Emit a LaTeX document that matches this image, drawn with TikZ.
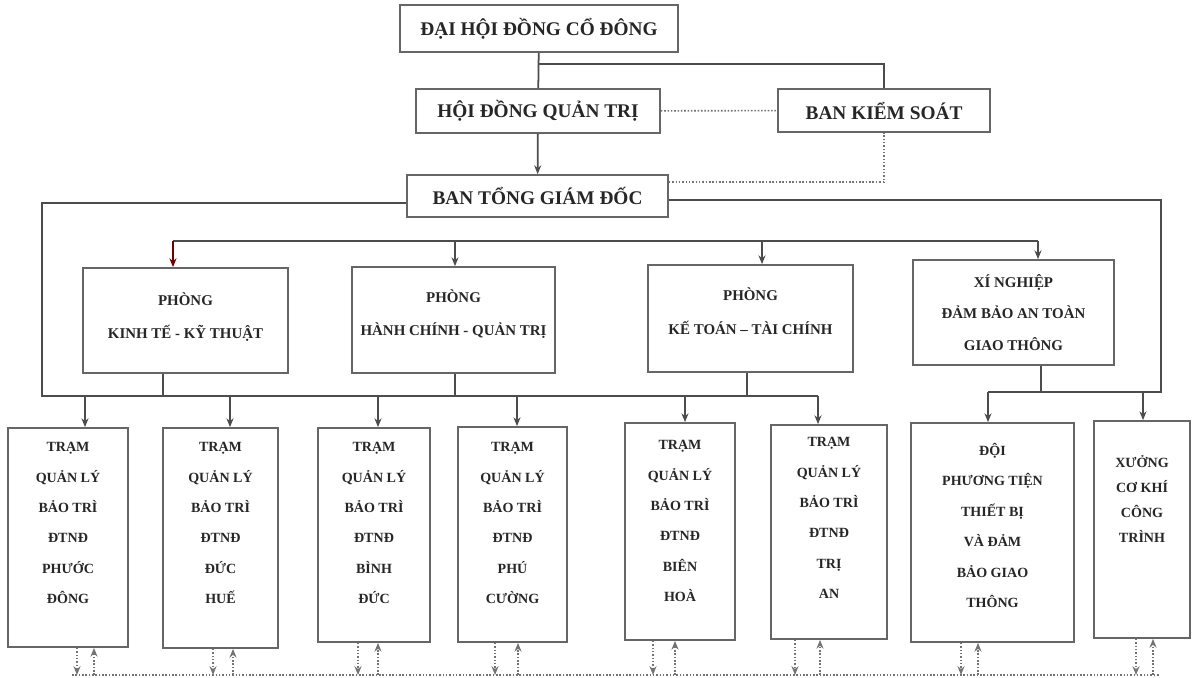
\documentclass[tikz,border=0pt]{standalone}
\usepackage{fontspec}
\setmainfont{Liberation Serif}
\usetikzlibrary{arrows.meta,fit}

\begin{document}
\begin{tikzpicture}[x=0.02cm,y=-0.02cm,
    line/.style={draw=black!70,line width=1pt},
    link/.style={line,-{Stealth[length=5pt,width=4pt]}},
    dots/.style={draw=black!55,line width=0.9pt,densely dotted},
    dotlink/.style={dots,-{Stealth[length=5pt,width=4pt]}},
    box/.style={draw=black!60,line width=1pt,rectangle,inner sep=0pt,text=black!85},
    head/.style={box,font=\bfseries\fontsize{11}{13}\selectfont},
    dept/.style={box,align=center,font=\bfseries\fontsize{8.5}{19}\selectfont},
    stationtext/.style={anchor=north,align=center,inner sep=0pt,text=black!85}]
  \useasboundingbox (0,0) rectangle (1196,678);

  % management
  \node[head,minimum width=5.56cm,minimum height=0.94cm] (dhdcd) at (539,28.5) {ĐẠI HỘI ĐỒNG CỔ ĐÔNG};
  \node[head,minimum width=4.88cm,minimum height=0.88cm] (hdqt) at (538,111) {HỘI ĐỒNG QUẢN TRỊ};
  \node[head,minimum width=4.24cm,minimum height=0.86cm] (bks) at (884,110.5) {BAN KIỂM SOÁT};
  \node[head,minimum width=5.22cm,minimum height=0.84cm] (btgd) at (537.5,196) {BAN TỔNG GIÁM ĐỐC};

  % departments
  \node[dept,minimum width=4.10cm,minimum height=2.10cm,text depth=0.2cm] (ktkt) at (185.5,320.5) {PHÒNG\\KINH TẾ - KỸ THUẬT};
  \node[dept,minimum width=4.06cm,minimum height=2.12cm,text depth=0.3cm] (hcqt) at (453.5,320) {PHÒNG\\HÀNH CHÍNH - QUẢN TRỊ};
  \node[dept,minimum width=4.10cm,minimum height=2.14cm,text depth=0.3cm] (kttc) at (750.5,318.5) {PHÒNG\\KẾ TOÁN – TÀI CHÍNH};
  \node[dept,minimum width=4.02cm,minimum height=2.10cm,font=\bfseries\fontsize{8.5}{18}\selectfont] (xn) at (1013.5,312.5) {XÍ NGHIỆP\\ĐẢM BẢO AN TOÀN\\GIAO THÔNG};

  % stations
  \foreach \nm/\xl/\xr/\yt/\yb/\ty/\ls/\txt in {
      tram1/8/128/428/647/442/17.3/{TRẠM\\QUẢN LÝ\\BẢO TRÌ\\ĐTNĐ\\PHƯỚC\\ĐÔNG},
      tram2/163/278/428/648/442/17.3/{TRẠM\\QUẢN LÝ\\BẢO TRÌ\\ĐTNĐ\\ĐỨC\\HUẾ},
      tram3/318/430/428/642/442/17.3/{TRẠM\\QUẢN LÝ\\BẢO TRÌ\\ĐTNĐ\\BÌNH\\ĐỨC},
      tram4/458/567/427/642/442/17.3/{TRẠM\\QUẢN LÝ\\BẢO TRÌ\\ĐTNĐ\\PHÚ\\CƯỜNG},
      tram5/625/735/423/640/440/17.3/{TRẠM\\QUẢN LÝ\\BẢO TRÌ\\ĐTNĐ\\BIÊN\\HOÀ},
      tram6/771/887/425/639/437/17.3/{TRẠM\\QUẢN LÝ\\BẢO TRÌ\\ĐTNĐ\\TRỊ\\AN},
      doi/911/1074/423/642/443/17.3/{ĐỘI\\PHƯƠNG TIỆN\\THIẾT BỊ\\VÀ ĐẢM\\BẢO GIAO\\THÔNG},
      xuong/1094/1190/421/638/455/14.2/{XƯỞNG\\CƠ KHÍ\\CÔNG\\TRÌNH}}{
    \node[box,fit={(\xl,\yt) (\xr,\yb)}] (\nm) {};
    \node[stationtext,font=\bfseries\fontsize{8}{\ls}\selectfont] (\nm-txt) at (\nm.north |- 0,\ty) {\txt};
  }

  % lines of command
  \draw[line] (dhdcd) -- (hdqt);
  \draw[line] (dhdcd.south |- 0,64) -| (bks.north);
  \draw[dots] (hdqt) -- (bks);
  \draw[link] (hdqt) -- (btgd);
  \draw[dots] (btgd.east |- 0,182) -| (bks.south);

  \draw[line] (173,241) -- (1038,241);
  \draw[line,draw=red!45!black,-{Stealth[length=5pt,width=4pt]}] (173,241) -- (ktkt.north -| 173,0);
  \foreach \nm/\x in {hcqt/455,kttc/762,xn/1038}
    \draw[link] (\x,241) -- (\nm.north -| \x,0);

  \coordinate (lbus) at (42,396);
  \coordinate (rbus) at (1161,392);
  \draw[line] (btgd.west |- 0,203) -| (lbus) -- (818,396);
  \draw[line] (btgd.east |- 0,200) -| (rbus) -- (988,392);
  \foreach \nm/\x in {ktkt/163,hcqt/455,kttc/747}
    \draw[line] (\nm.south -| \x,0) -- (\x,0 |- lbus);
  \draw[line] (xn.south -| 1041,0) -- (1041,0 |- rbus);
  \foreach \nm/\x in {tram1/85,tram2/230,tram3/378,tram4/517,tram5/685,tram6/818}
    \draw[link] (\x,0 |- lbus) -- (\nm.north -| \x,0);
  \foreach \nm/\x in {doi/988,xuong/1143}
    \draw[link] (\x,0 |- rbus) -- (\nm.north -| \x,0);

  % common link
  \coordinate (bbus) at (72,675);
  \draw[dots] (bbus) -- (1160,675);
  \foreach \nm/\xd/\xu in {tram1/77/94,tram2/213/233,tram3/358/378,tram4/495/518,tram5/653/675,tram6/795/820,doi/961/978,xuong/1136/1153}{
    \draw[dotlink] (\nm.south -| \xd,0) -- (\xd,0 |- bbus);
    \draw[dotlink] (\xu,0 |- bbus) -- (\nm.south -| \xu,0);
  }
\end{tikzpicture}
\end{document}
